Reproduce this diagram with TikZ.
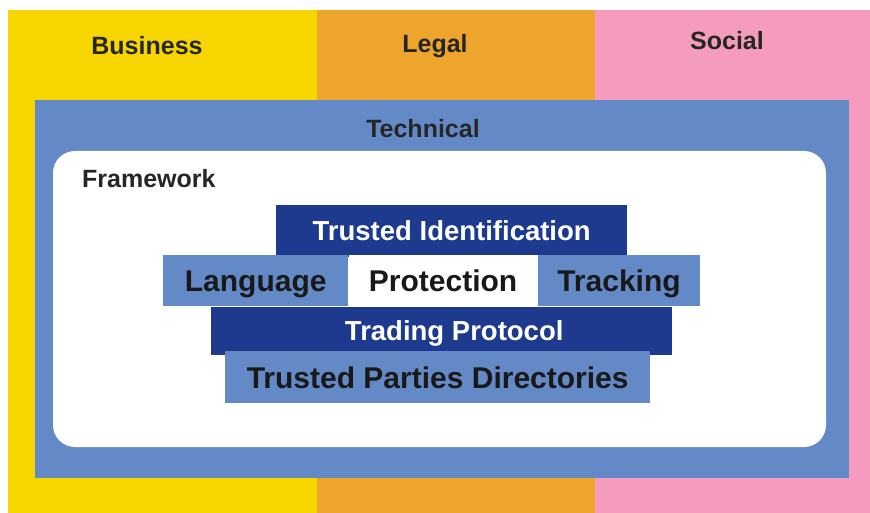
\documentclass[tikz,border=0pt]{standalone}
\usepackage{fontspec}
\setmainfont{Liberation Sans}
\usepackage{xcolor}
\usepackage{tikz}
\usetikzlibrary{positioning}

\definecolor{bizyellow}{HTML}{F7D600}
\definecolor{legalorange}{HTML}{EEA52B}
\definecolor{socialpink}{HTML}{F49BBE}
\definecolor{techblue}{HTML}{6389C6}
\definecolor{navy}{HTML}{1E3A8F}

\begin{document}
\begin{tikzpicture}[x=1pt, y=-1pt, node distance=0pt]
    % Tyylit
    \tikzstyle{area} = [font=\fontsize{25}{28}\selectfont\bfseries, text=black!85, anchor=base, inner sep=0pt]
    \tikzstyle{layer} = [rectangle, inner sep=0pt, anchor=north west, text centered, font=\fontsize{30}{34}\selectfont\bfseries, fill=techblue, text=black!90, text height=25pt, text depth=3pt]
    \tikzstyle{darklayer} = [layer, fill=navy, text=white, font=\fontsize{27.5}{32}\selectfont\bfseries, text height=22pt, text depth=3.5pt]

    \useasboundingbox (0,0) rectangle (870,513);

    % Taustat
    \fill[bizyellow] (8,10) rectangle (317,513);
    \fill[legalorange] (317,10) rectangle (595,513);
    \fill[socialpink] (595,10) rectangle (870,513);
    \fill[techblue] (35,100) rectangle (849,478);
    \fill[white, rounded corners=22pt] (53,151) rectangle (826,447);

    % Otsikot
    \node (biz) [area] at (147,55) {Business};
    \node (legal) [area] at (435,53) {Legal};
    \node (social) [area] at (727,50) {Social};
    \node (tech) [area] at (423,138) {Technical};
    \node (frame) [area, anchor=base west] at (82,188) {Framework};

    % Kerrokset
    \node (ident) [darklayer, minimum width=351pt, minimum height=52pt] at (276,205) {Trusted Identification};
    \node (lang) [layer, minimum width=185pt, minimum height=51pt] at (163,255) {Language};
    \node (prot) [layer, fill=white, minimum width=189pt, minimum height=51pt, right=0pt of lang] {Protection};
    \node (track) [layer, minimum width=162pt, minimum height=51pt, right=0pt of prot] {Tracking};
    \node (trade) [darklayer, minimum width=461pt, minimum height=48pt] at (211,307) {\hspace*{25pt}Trading Protocol};
    \node (parties) [layer, minimum width=425pt, minimum height=52pt] at (225,351) {Trusted Parties Directories};
\end{tikzpicture}
\end{document}
